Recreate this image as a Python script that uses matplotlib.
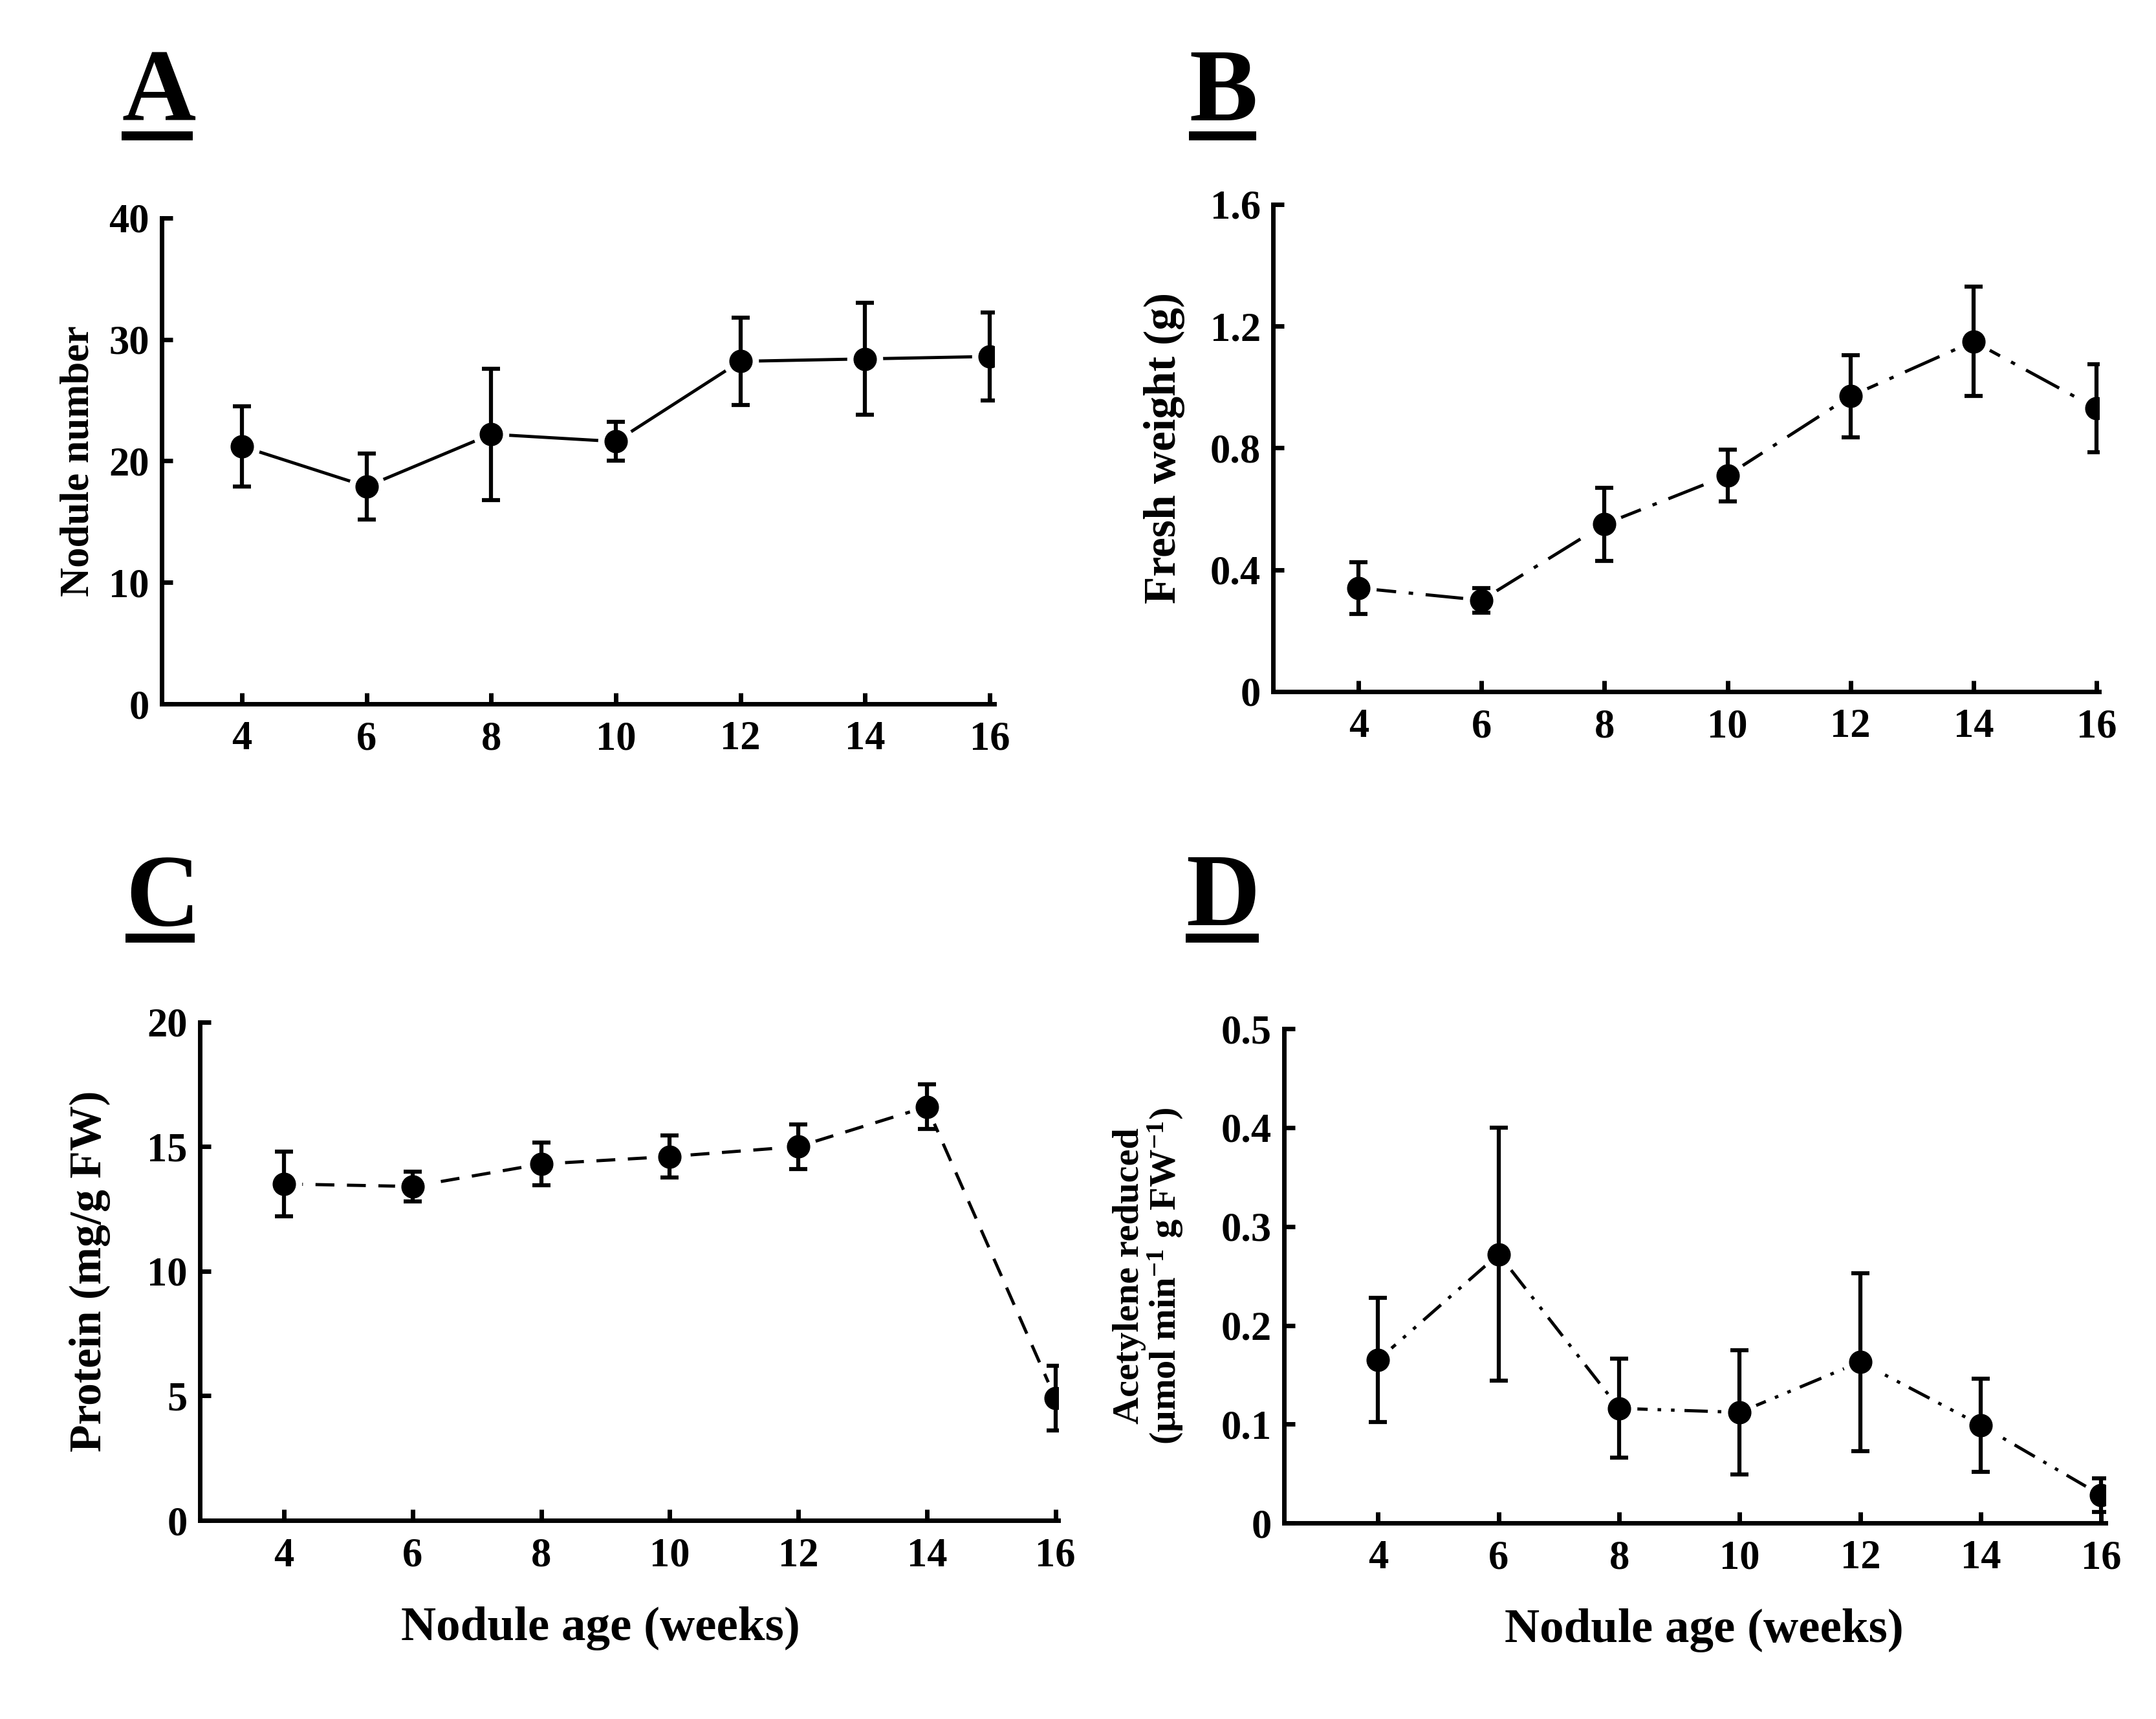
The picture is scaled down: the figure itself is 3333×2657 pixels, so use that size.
import numpy as np
import matplotlib
matplotlib.use('Agg')
import matplotlib.pyplot as plt
from matplotlib.lines import Line2D

# datos
semanas = [4, 6, 8, 10, 12, 14, 16]

nodulos = [21.2, 17.9, 22.2, 21.6, 28.2, 28.4, 28.6]
nodulos_err = [3.3, 2.7, 5.4, 1.6, 3.6, 4.6, 3.6]

peso_fresco = [0.34, 0.30, 0.55, 0.71, 0.97, 1.15, 0.93]
peso_fresco_err = [0.085, 0.04, 0.12, 0.085, 0.135, 0.18, 0.145]

proteina = [13.5, 13.4, 14.3, 14.6, 15.0, 16.6, 4.9]
proteina_err = [1.3, 0.6, 0.85, 0.85, 0.9, 0.9, 1.3]

acetileno = [0.165, 0.272, 0.116, 0.112, 0.163, 0.099, 0.028]
acetileno_err = [0.063, 0.128, 0.05, 0.063, 0.09, 0.047, 0.017]

plt.rcParams['font.family'] = 'Liberation Serif'
plt.rcParams['font.weight'] = 'bold'
plt.rcParams['mathtext.fontset'] = 'custom'
plt.rcParams['mathtext.rm'] = 'Liberation Serif:bold'
plt.rcParams['mathtext.default'] = 'rm'
plt.rcParams['lines.scale_dashes'] = False


def panel(fig, rect, y, err, dashes, ylim, yticks, yticklabels, xlim,
          ylabel, ylab_size, ylab_x, xlabel=None, xlab_x=0.5):
    ax = fig.add_axes(rect)
    if dashes is None:
        ax.plot(semanas, y, color='k', lw=3.5, ls='-', zorder=1)
    else:
        ax.plot(semanas, y, color='k', lw=3.5, dashes=dashes, zorder=1)
    # hueco blanco alrededor de los puntos
    ax.plot(semanas, y, 'o', ms=25, mfc='white', mec='white', mew=15, zorder=2)
    ax.errorbar(semanas, y, yerr=err, fmt='o', color='k', ms=25,
                elinewidth=4.5, capsize=10, capthick=4.5, zorder=3)
    ax.set_xlim(xlim)
    ax.set_ylim(ylim)
    ax.set_xticks(semanas)
    ax.set_yticks(yticks)
    ax.set_yticklabels(yticklabels)
    for s in ['top', 'right']:
        ax.spines[s].set_visible(False)
    for s in ['left', 'bottom']:
        ax.spines[s].set_linewidth(5)
    ax.tick_params(direction='in', length=12, width=5, labelsize=45)
    ax.tick_params(axis='x', pad=19)
    ax.tick_params(axis='y', pad=14)
    ax.patch.set_alpha(0)
    ax.set_ylabel(ylabel, fontsize=ylab_size, fontweight='bold', va='center',
                  multialignment='center', linespacing=1.0)
    ax.yaxis.set_label_coords(ylab_x, 0.5)
    if xlabel:
        ax.set_xlabel(xlabel, fontsize=54, fontweight='bold', va='center')
        ax.xaxis.set_label_coords(xlab_x, -0.217)
    return ax


def letra(fig, texto, x0, x1, base, sub):
    W, H = 3333, 2657
    fig.text(x0 / W, 1 - base / H, texto, fontsize=114, fontweight='bold',
             ha='left', va='baseline')
    fig.add_artist(Line2D([x0 / W, x1 / W], [1 - sub / H, 1 - sub / H],
                          color='k', lw=10, solid_capstyle='butt'))


fig = plt.figure(figsize=(33.33, 26.57), dpi=100)

panel(fig, [0.075, 0.5905, 0.386, 0.2827], nodulos, nodulos_err, None,
      (0, 40), [0, 10, 20, 30, 40], ['0', '10', '20', '30', '40'],
      (2.71, 16.07), 'Nodule number', 45, -0.10)

panel(fig, [0.5905, 0.5977, 0.383, 0.2834], peso_fresco, peso_fresco_err,
      (42, 14, 5, 14), (0, 1.6), [0, 0.4, 0.8, 1.2, 1.6],
      ['0', '0.4', '0.8', '1.2', '1.6'],
      (2.61, 16.04), 'Fresh weight (g)', 50, -0.132)

panel(fig, [0.0927, 0.1155, 0.398, 0.290], proteina, proteina_err,
      (21, 14), (0, 20), [0, 5, 10, 15, 20], ['0', '5', '10', '15', '20'],
      (2.69, 16.04), 'Protein (mg/g FW)', 50, -0.128,
      xlabel='Nodule age (weeks)', xlab_x=0.467)

panel(fig, [0.5956, 0.114, 0.381, 0.2875], acetileno, acetileno_err,
      (26, 11, 4, 11, 4, 11), (0, 0.5), [0, 0.1, 0.2, 0.3, 0.4, 0.5],
      ['0', '0.1', '0.2', '0.3', '0.4', '0.5'],
      (2.44, 16.07),
      'Acetylene reduced\n(µmol min$^{-1}$ g FW$^{-1}$)', 42, -0.165,
      xlabel='Nodule age (weeks)', xlab_x=0.511)

letra(fig, 'A', 188, 298, 186, 210)
letra(fig, 'B', 1838, 1942, 186, 210)
letra(fig, 'C', 194, 301, 1430, 1450)
letra(fig, 'D', 1833, 1946, 1430, 1450)

fig.savefig('out.png', dpi=100, facecolor='white')
